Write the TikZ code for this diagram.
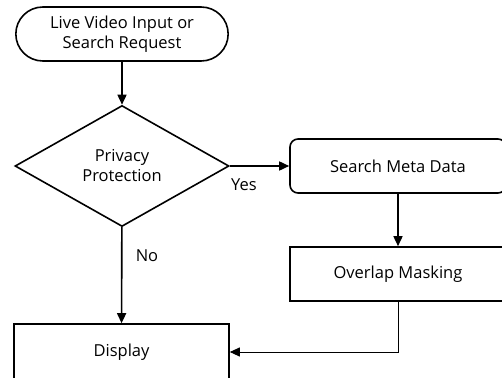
\documentclass[tikz,border=0pt]{standalone}
\usepackage{fontspec}
\setmainfont{Open Sans}
\usetikzlibrary{shapes, shapes.misc, arrows.meta, positioning, shapes.geometric}

\begin{document}
\begin{tikzpicture}[x=1pt, y=-1pt, line width=1.6pt, >={Triangle[length=10pt,width=9pt]},
        font=\fontsize{16.5}{20}\selectfont,
        box/.style={draw, minimum width=216pt, minimum height=54pt, align=center}]
        \useasboundingbox (0,0) rectangle (502,377);

        % Start
        \node[draw, rounded rectangle, minimum width=219pt, minimum height=54pt, align=center] (start) at (122,34) {Live Video Input or\\Search Request};

        % Decision
        \node[draw, diamond, inner sep=0pt, minimum width=214pt, minimum height=121pt, align=center] (privacy) at (122,166) {Privacy\\Protection};

        % Yes branch
        \node[box, rounded corners=8pt] (search) at (398,166) {Search Meta Data};
        \node[box] (masking) at (398,274) {Overlap Masking};

        % Output
        \node[box, minimum width=215pt, minimum height=56pt] (display) at (121.5,352) {Display};

        % Labels
        \node (yes) at (244,185) {Yes};
        \node (no) at (147,256) {No};

        % Arrows
        \draw[->] (start) -- (privacy);
        \draw[->] (privacy) -- (search);
        \draw[->] (search) -- (masking);
        \draw[->] (privacy) -- (display);
        \draw[->, line width=1pt] (masking.south) |- (display.east);

\end{tikzpicture}
\end{document}
